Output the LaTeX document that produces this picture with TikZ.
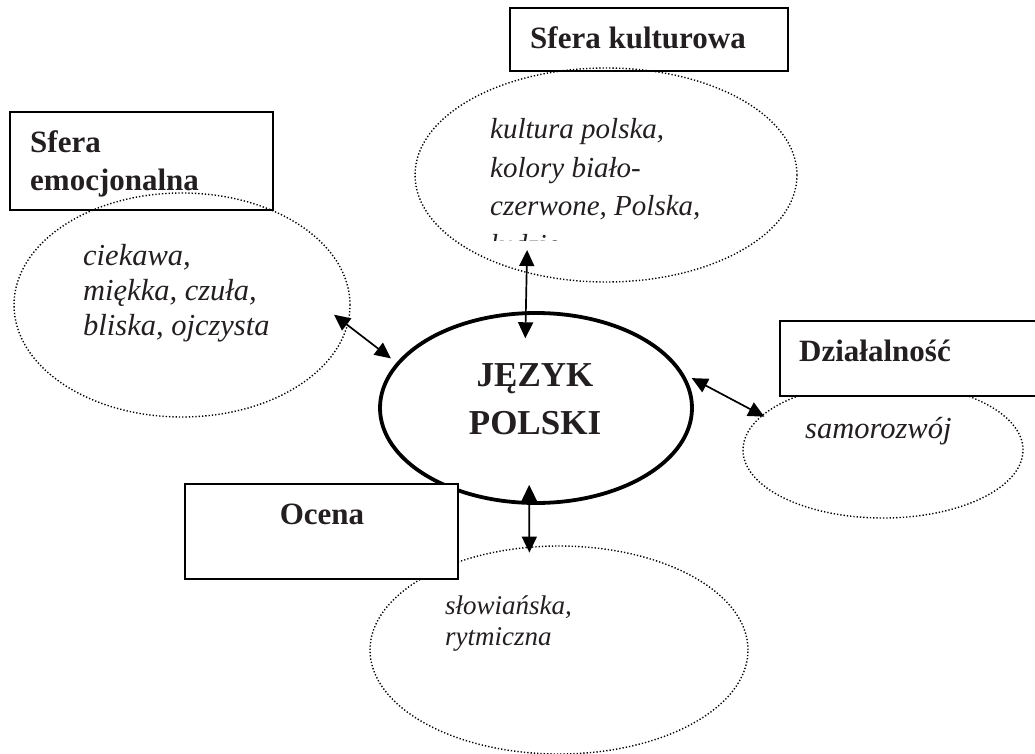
\documentclass[tikz,border=0pt]{standalone}
\usepackage{fontspec}
\setmainfont{Liberation Serif}
\usetikzlibrary{shapes.geometric,arrows.meta}
\definecolor{tekst}{RGB}{35,31,32}
\tikzset{
  sferabox/.style={draw,rectangle,line width=1.4pt,inner sep=0pt},
  sferaell/.style={draw,ellipse,line width=1.4pt,dash pattern=on 1.3pt off 2pt,inner sep=0pt},
  tytul/.style={inner sep=0pt,text=tekst,font=\bfseries\fontsize{31}{38}\selectfont,align=left},
  opis/.style={inner sep=0pt,text=tekst,align=left},
  strzalka/.style={line width=1.7pt,{Triangle[length=16pt,width=15pt]}-{Triangle[length=16pt,width=15pt]}}
}
\begin{document}
\begin{tikzpicture}[x=1pt,y=-1pt]
  \useasboundingbox (0,0) rectangle (1035,754);
  % ramki bez wypelnienia
  \node[sferabox,minimum width=263pt,minimum height=98pt] (emocBox) at (141.5,161) {};
  \node[sferabox,minimum width=278pt,minimum height=63pt] (kulturaBox) at (649,39.5) {};
  % elipsy
  \node[sferaell,minimum width=382pt,minimum height=214pt] (kulturaEll) at (606,175) {};
  \node[sferaell,minimum width=336pt,minimum height=224pt] (emocEll) at (182,305) {};
  \node[sferaell,minimum width=280pt,minimum height=136pt] (dzialEll) at (883,450) {};
  \node[sferaell,minimum width=378pt,minimum height=208pt] (ocenaEll) at (559,650) {};
  \node[draw,ellipse,line width=3.8pt,inner sep=0pt,minimum width=312pt,minimum height=190pt] (jezyk) at (536,408) {};
  % ramki z wypelnieniem
  \node[sferabox,fill=white,minimum width=265pt,minimum height=75pt] (dzialBox) at (912.5,358.5) {};
  \node[sferabox,fill=white,minimum width=273pt,minimum height=95pt] (ocenaBox) at (321.5,531.5) {};
  % tytuly
  \node[tytul,anchor=base west] (kulturaTit) at (530,49) {Sfera kulturowa};
  \node[tytul,anchor=north west] (emocTit) at (30,130.3) {Sfera\\emocjonalna};
  \node[tytul,anchor=base west] (dzialTit) at (799,361) {Działalność};
  \node[tytul,anchor=base] (ocenaTit) at (322,524) {Ocena};
  \node[inner sep=0pt,text=tekst,align=center,anchor=north,
        font=\bfseries\fontsize{35}{48}\selectfont] (jezykTxt) at (535,363) {JĘZYK\\POLSKI};
  % opisy
  \begin{scope}
    \clip (400,0) rectangle (800,240);
    \node[opis,anchor=north west,font=\itshape\fontsize{29}{38.5}\selectfont] (kulturaTxt) at (490,118.2)
      {kultura polska,\\kolory biało-\\czerwone, Polska,\\ludzie};
  \end{scope}
  \node[opis,anchor=north west,font=\itshape\fontsize{30.5}{35}\selectfont] (emocTxt) at (83,244)
    {ciekawa,\\miękka, czuła,\\bliska, ojczysta};
  \node[opis,anchor=base west,font=\itshape\fontsize{30.5}{35}\selectfont] (dzialTxt) at (805,438) {samorozwój};
  \node[opis,anchor=north west,font=\itshape\fontsize{27}{31}\selectfont] (ocenaTxt) at (445,595.6)
    {słowiańska,\\rytmiczna};
  % strzalki
  \draw[strzalka,shorten <=-23pt,shorten >=-27pt] (kulturaEll.231.7) -- (jezyk.96);
  \draw[strzalka,shorten <=-17.5pt,shorten >=7pt] (emocEll.-7) -- (jezyk.162);
  \draw[strzalka,shorten <=9pt,shorten >=-3pt] (jezyk.13) -- (dzialEll.164);
  \draw[strzalka,shorten <=-20pt,shorten >=-6pt] (jezyk.266) -- (ocenaEll.106);
\end{tikzpicture}
\end{document}
